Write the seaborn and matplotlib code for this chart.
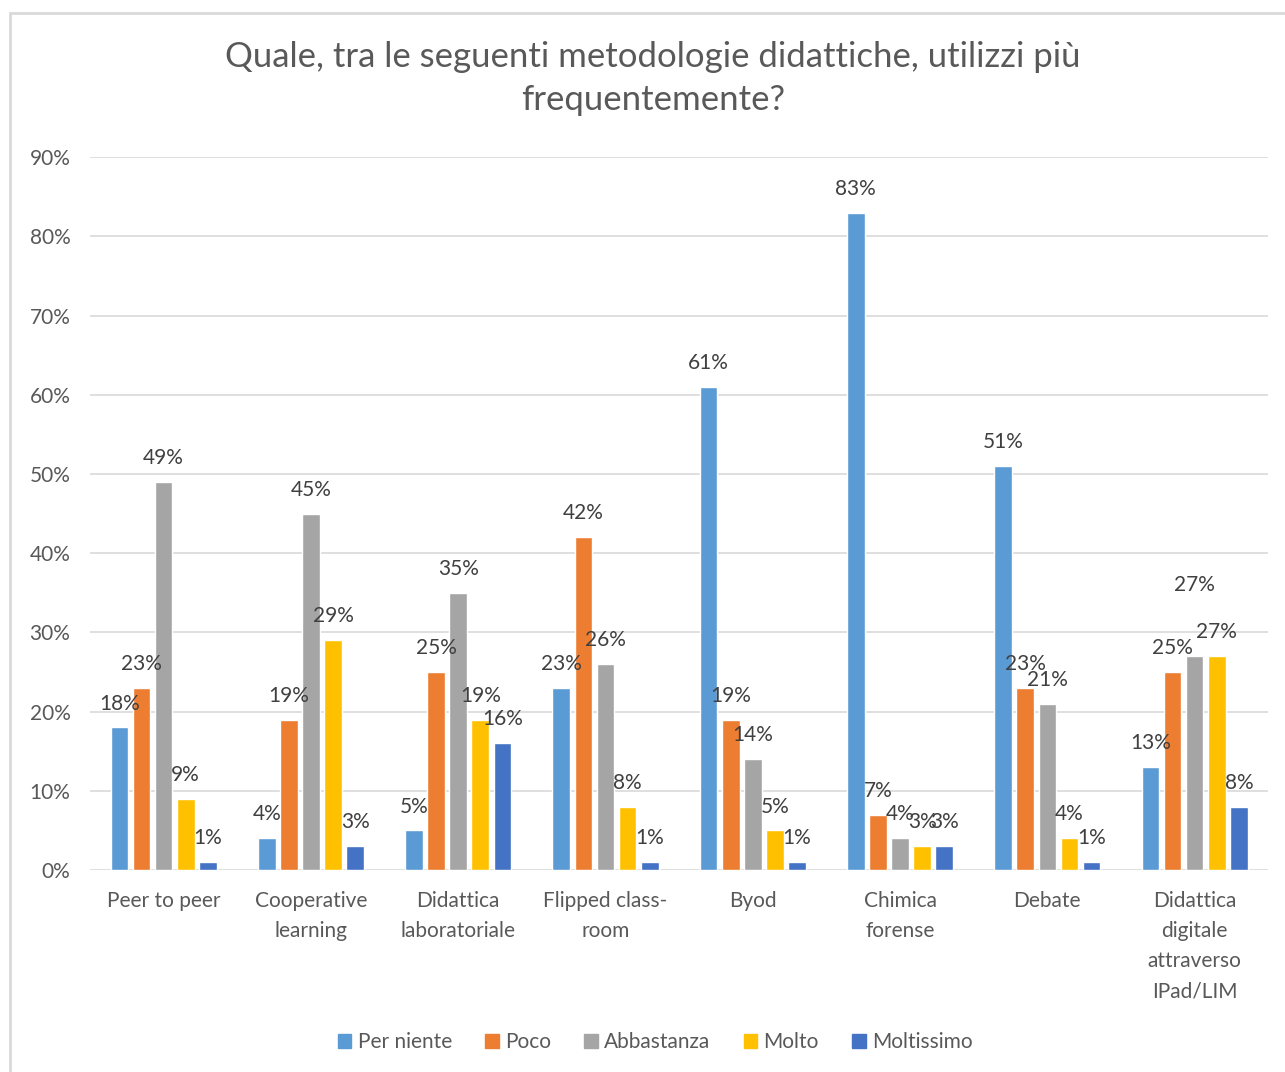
import pandas as pd
import matplotlib.pyplot as plt
import seaborn as sns
from matplotlib.ticker import PercentFormatter
from matplotlib.patches import Rectangle

# categories (tick labels already wrapped like in the original)
categorie = ["Peer to peer", "Cooperative\nlearning", "Didattica\nlaboratoriale",
             "Flipped class-\nroom", "Byod", "Chimica\nforense", "Debate",
             "Didattica\ndigitale\nattraverso\nIPad/LIM"]
risposte = ["Per niente", "Poco", "Abbastanza", "Molto", "Moltissimo"]

# values in %
per_niente = [18, 4, 5, 23, 61, 83, 51, 13]
poco = [23, 19, 25, 42, 19, 7, 23, 25]
abbastanza = [49, 45, 35, 26, 14, 4, 21, 27]
molto = [9, 29, 19, 8, 5, 3, 4, 27]
moltissimo = [1, 3, 16, 1, 1, 3, 1, 8]

colori = ["#5B9BD5", "#ED7D31", "#A5A5A5", "#FFC000", "#4472C4"]

serie = [per_niente, poco, abbastanza, molto, moltissimo]
rows = []
for r, vals in zip(risposte, serie):
    for c, v in zip(categorie, vals):
        rows.append({"metodologia": c, "risposta": r, "valore": v})
df = pd.DataFrame(rows)

sns.set_style("white")
plt.rcParams["font.family"] = ["Lato", "DejaVu Sans"]

fig = plt.figure(figsize=(12.85, 10.72), dpi=100)
ax = fig.add_axes([0.070, 0.1884, 0.917, 0.665])

sns.barplot(data=df, x="metodologia", y="valore", hue="risposta",
            order=categorie, hue_order=risposte, palette=colori,
            width=0.75, gap=0.2, saturation=1, errorbar=None,
            legend=False, ax=ax)

ax.set_ylim(0, 90)
ax.set_yticks(range(0, 91, 10))
ax.yaxis.set_major_formatter(PercentFormatter(xmax=100, decimals=0))
ax.grid(axis="y", color="#d9d9d9", linewidth=1.2)
ax.set_axisbelow(True)
sns.despine(ax=ax, left=True, bottom=True, top=True, right=True)
ax.set_xlabel("")
ax.set_ylabel("")
ax.tick_params(axis="both", length=0, labelsize=15, colors="#595959")
ax.tick_params(axis="y", pad=14)
ax.tick_params(axis="x", pad=15)
for t in ax.get_xticklabels():
    t.set_linespacing(1.63)

# data labels
for i, cont in enumerate(ax.containers):
    anns = ax.bar_label(cont, fmt="{:.0f}%", padding=10, fontsize=15,
                        color="#404040")
    if i == 2:
        # last grey label sits higher in the original
        anns[-1].xyann = (0, 44)

# legend
handles = [Rectangle((0, 0), 1, 1, color=c) for c in colori]
fig.legend(handles, risposte, loc="center", bbox_to_anchor=(0.51, 0.028),
           ncol=5, frameon=False, fontsize=15, handlelength=0.65,
           handleheight=0.65, handletextpad=0.3, columnspacing=1.6,
           labelcolor="#595959")

fig.suptitle("Quale, tra le seguenti metodologie didattiche, utilizzi più\nfrequentemente?",
             x=0.508, y=0.962, fontsize=25, color="#595959", linespacing=1.45)

# chart border
fig.patches.append(Rectangle((10 / 1285, -0.01), 1.0, 1 - 13 / 1072 + 0.01,
                             transform=fig.transFigure, fill=False,
                             edgecolor="#d9d9d9", linewidth=2))

fig.savefig("out.png", dpi=100)
